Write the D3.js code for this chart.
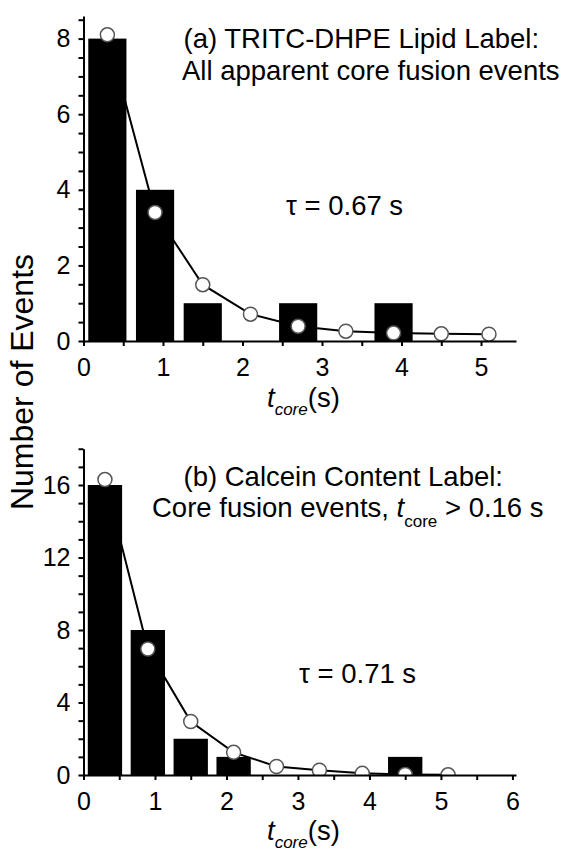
<!DOCTYPE html>
<html>
<head>
<meta charset="utf-8">
<script src="https://cdn.jsdelivr.net/npm/d3@7"></script>
<style>
  html, body { margin: 0; padding: 0; background: #fff; }
  svg { display: block; font-family: Arial, "Liberation Sans", Helvetica, sans-serif; }
</style>
</head>
<body>
<svg id="chart" width="564" height="853"></svg>
<script>
// ---- data ----
const binCenters = [0.3, 0.9, 1.5, 2.1, 2.7, 3.3, 3.9, 4.5, 5.1];
const countsA = [8, 4, 1, 0, 1, 0, 1, 0, 0];
const fitA = [8.1, 3.4, 1.49, 0.71, 0.39, 0.26, 0.21, 0.19, 0.18];
const countsB = [16, 8, 2, 1, 0, 0, 0, 1, 0];
const fitB = [16.3, 6.95, 2.95, 1.25, 0.47, 0.26, 0.09, 0.03, 0.01];
const xTickLabelsA = [0, 1, 2, 3, 4, 5];
const yTickLabelsA = [0, 2, 4, 6, 8];
const xTickLabelsB = [0, 1, 2, 3, 4, 5, 6];
const yTickLabelsB = [0, 4, 8, 12, 16];
const barWidth = 0.48;

const svg = d3.select("#chart");

function panel(cfg) {
  const x = d3.scaleLinear().domain(cfg.xDomain).range([83.5, 516]);
  const y = d3.scaleLinear().domain(cfg.yDomain).range(cfg.yRange);
  const g = svg.append("g");

  const clipId = "clip" + cfg.id;
  svg.append("defs").append("clipPath").attr("id", clipId)
    .append("rect").attr("x", 83.5).attr("y", 0)
    .attr("width", 440).attr("height", y(0));

  // bars
  g.selectAll("rect.bar").data(cfg.counts.map((c, i) => ({x: binCenters[i], c})).filter(d => d.c > 0))
    .join("rect").attr("class", "bar")
    .attr("x", d => x(d.x - barWidth / 2))
    .attr("width", d => x(d.x + barWidth / 2) - x(d.x - barWidth / 2))
    .attr("y", d => y(d.c))
    .attr("height", d => y(0) - y(d.c))
    .attr("fill", "#000");

  const pts = cfg.fit.map((v, i) => [binCenters[i], v]);
  const fg = g.append("g").attr("clip-path", `url(#${clipId})`);
  fg.append("path")
    .attr("d", d3.line().x(d => x(d[0])).y(d => y(d[1]))(pts))
    .attr("fill", "none").attr("stroke", "#000").attr("stroke-width", 2);
  fg.selectAll("circle").data(pts).join("circle")
    .attr("cx", d => x(d[0])).attr("cy", d => y(d[1])).attr("r", 7)
    .attr("fill", "#fff").attr("stroke", "#555").attr("stroke-width", 1.5);

  // axes
  const xMinor = d3.range(0, cfg.xDomain[1] + 1e-9, 0.5);
  const xAxis = d3.axisBottom(x).tickValues(xMinor).tickSize(5).tickSizeOuter(0).tickPadding(12)
    .tickFormat(d => cfg.xLabels.includes(d) ? d : "");
  const gx = g.append("g").attr("transform", `translate(0,${y(0)})`).call(xAxis);

  const yMinor = d3.range(0, cfg.yDomain[1] + 1e-9, cfg.yMinorStep);
  const yAxis = d3.axisLeft(y).tickValues(yMinor).tickSize(5).tickSizeOuter(0).tickPadding(8)
    .tickFormat(d => cfg.yLabels.includes(d) ? d : "");
  const gy = g.append("g").attr("transform", `translate(83.5,0)`).call(yAxis);

  [gx, gy].forEach(a => {
    a.select(".domain").attr("stroke", "#000").attr("stroke-width", 2);
    a.selectAll(".tick line").attr("stroke", "#000").attr("stroke-width", 2);
    a.selectAll(".tick text").attr("fill", "#000").attr("font-size", 25)
      .attr("font-family", "Arial, 'Liberation Sans', sans-serif");
  });

  // x title
  const xt = g.append("text").attr("x", 267).attr("y", cfg.xTitleY)
    .attr("font-size", 27.5).attr("fill", "#000");
  xt.append("tspan").attr("font-style", "italic").text("t");
  xt.append("tspan").attr("font-style", "italic").attr("font-size", 17).attr("dy", 8).text("core");
  xt.append("tspan").attr("dy", -8).text("(s)");

  return {x, y, g};
}

const A = panel({id: "a", xDomain: [0, 5.44], yDomain: [0, 8.6], yRange: [341, 341 - 8.6 * 37.8],
  counts: countsA, fit: fitA, xLabels: xTickLabelsA, yLabels: yTickLabelsA, yMinorStep: 0.5, xTitleY: 407});
const B = panel({id: "b", xDomain: [0, 6.05], yDomain: [0, 18], yRange: [775, 775 - 18 * 18.125],
  counts: countsB, fit: fitB, xLabels: xTickLabelsB, yLabels: yTickLabelsB, yMinorStep: 1, xTitleY: 840});

// annotations
const fs = 27.5;
svg.append("text").attr("x", 183.5).attr("y", 48).attr("font-size", fs).text("(a) TRITC-DHPE Lipid Label:");
svg.append("text").attr("x", 182).attr("y", 80).attr("font-size", fs).text("All apparent core fusion events");
svg.append("text").attr("x", 286).attr("y", 215).attr("font-size", fs).text("τ = 0.67 s");

svg.append("text").attr("x", 183.5).attr("y", 486).attr("font-size", fs).text("(b) Calcein Content Label:");
const b2 = svg.append("text").attr("x", 152).attr("y", 517).attr("font-size", fs);
b2.append("tspan").text("Core fusion events, ");
b2.append("tspan").attr("font-style", "italic").text("t");
b2.append("tspan").attr("font-size", 17).attr("dy", 10).text("core");
b2.append("tspan").attr("dy", -10).text(" > 0.16 s");
svg.append("text").attr("x", 299).attr("y", 683).attr("font-size", fs).text("τ = 0.71 s");

// y title
svg.append("text").attr("transform", "translate(33,382) rotate(-90)")
  .attr("text-anchor", "middle").attr("font-size", 32).text("Number of Events");
</script>
</body>
</html>
